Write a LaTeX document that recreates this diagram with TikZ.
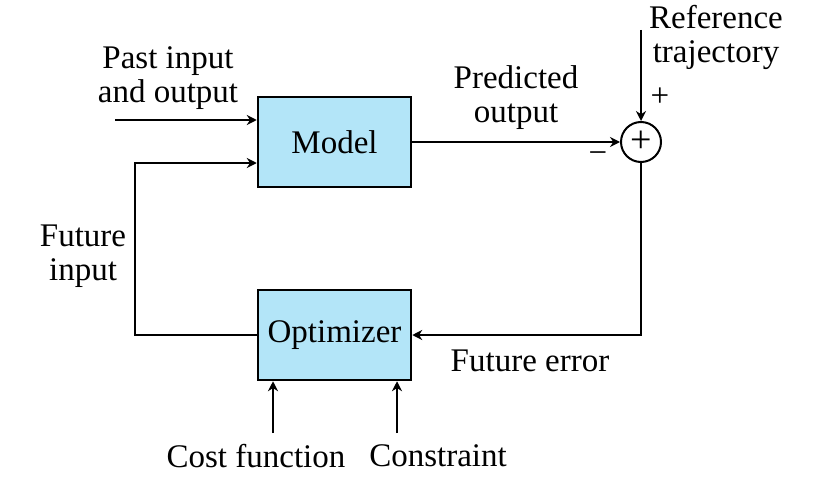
\documentclass[tikz,border=0pt]{standalone}
\usepackage{fontspec}
\setmainfont{Liberation Serif}
\usetikzlibrary{arrows.meta}
\definecolor{boxblue}{HTML}{B3E5F8}

\tikzset{
  block/.style={draw, line width=2.5pt, fill=boxblue, minimum width=153pt, minimum height=90pt, inner sep=0pt, font=\fontsize{33}{33}\selectfont},
  sumnode/.style={draw, circle, line width=2pt, minimum size=40pt, inner sep=0pt, font=\fontsize{38}{38}\selectfont},
  lbl/.style={align=center, inner sep=0pt, font=\fontsize{33}{34}\selectfont},
  sig/.style={line width=2.3pt, -{Stealth[length=10pt, width=10pt]}},
  thinsig/.style={line width=1.5pt, -{Stealth[length=10pt, width=10pt]}},
}

\begin{document}
\begin{tikzpicture}[x=1pt, y=-1pt]
  \useasboundingbox (0,0) rectangle (835,487);

  % blocks
  \node[block] (model) at (334.5,142) {Model};
  \node[block] (opt) at (334.5,335) {Optimizer};
  \node[sumnode] (sum) at (641,142) {+};

  % free ends
  \coordinate (pastin) at (115,120);
  \coordinate (refin) at (641,30);
  \coordinate (costin) at (273,433);
  \coordinate (consin) at (397,433);
  \coordinate (fbleft) at (135,335);

  % signals
  \draw[sig] (pastin) -- (pastin -| model.west);
  \draw[thinsig] (opt.west) -- (fbleft) |- ([yshift=-21pt]model.west);
  \draw[sig] (model) -- (sum);
  \draw[sig] (refin) -- (sum);
  \draw[sig] (sum) |- (opt);
  \draw[sig] (costin) -- (costin |- opt.south);
  \draw[sig] (consin) -- (consin |- opt.south);

  % labels
  \node[lbl] (pastlbl) at (168,78) {Past input\\and output};
  \node[lbl] (predlbl) at (516,98) {Predicted\\output};
  \node[lbl] (reflbl) at (716,37) {Reference\\trajectory};
  \node[lbl] (futinlbl) at (83,256) {Future\\input};
  \node[lbl] (futerrlbl) at (530,361) {Future error};
  \node[lbl] (costlbl) at (256,456) {Cost function};
  \node[lbl] (conslbl) at (438,456) {Constraint};
  \node[lbl] (plus) at (660,97) {+};
  \node[lbl] (minus) at (598,158) {−};
\end{tikzpicture}
\end{document}
